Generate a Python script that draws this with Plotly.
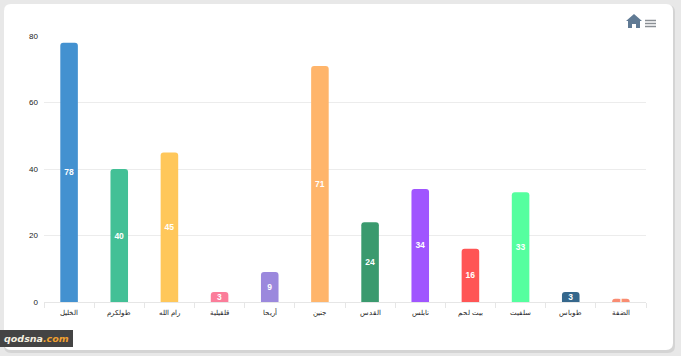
import plotly.graph_objects as go

categories = ["الخليل", "طولكرم", "رام الله", "قلقيلية", "أريحا", "جنين",
              "القدس", "نابلس", "بيت لحم", "سلفيت", "طوباس", "الضفة"]
values = [78, 40, 45, 3, 9, 71, 24, 34, 16, 33, 3, 1]
colors = ["#4391d0", "#43c096", "#ffc75a", "#fb7d9a", "#9b88dd", "#ffb56b",
          "#3a9a6e", "#a055ff", "#ff5555", "#55ff9f", "#35678c", "#f98c72"]
y_ticks = [0, 20, 40, 60, 80]
W, H = 681, 356
L, R, T, B = 44, 646, 36, 302

def px(x): return (x - L) / (R - L)
def py(y): return (B - y) / (B - T)

fig = go.Figure(go.Bar(
    x=categories, y=values, marker=dict(color=colors, cornerradius=3, line=dict(width=0)),
    width=0.35, text=values, textposition="inside", insidetextanchor="middle",
    textangle=0, constraintext="none", cliponaxis=False,
    textfont=dict(family="Liberation Sans, Arial", size=8.5, color="white", weight="bold"),
    hoverinfo="x+y",
))

def rect_path(x0, y0, x1, y1, r):
    X0, X1, Y0, Y1 = px(x0), px(x1), py(y0), py(y1)
    rx, ry = r / (R - L), r / (B - T)
    return (f"M {X0+rx} {Y0} L {X1-rx} {Y0} Q {X1} {Y0} {X1} {Y0-ry} L {X1} {Y1+ry} "
            f"Q {X1} {Y1} {X1-rx} {Y1} L {X0+rx} {Y1} Q {X0} {Y1} {X0} {Y1+ry} "
            f"L {X0} {Y0-ry} Q {X0} {Y0} {X0+rx} {Y0} Z")

shapes = [
    dict(type="path", xref="paper", yref="paper", layer="below", path=rect_path(4, 5, 675, 353, 7),
         fillcolor="#d4d4d4", line=dict(width=0)),
    dict(type="path", xref="paper", yref="paper", layer="below", path=rect_path(4, 4, 673, 350, 7),
         fillcolor="#ffffff", line=dict(width=0)),
]
hp = [(626, 21), (634, 14), (642, 21), (640, 21), (640, 28), (636, 28), (636, 24), (632, 24), (632, 28), (628, 28), (628, 21)]
shapes.append(dict(type="path", xref="paper", yref="paper",
                   path="M " + " L ".join(f"{px(a)} {py(b)}" for a, b in hp) + " Z",
                   fillcolor="#607a94", line=dict(width=0)))
for y in (20.5, 23.5, 26.5):
    shapes.append(dict(type="line", xref="paper", yref="paper", x0=px(645), x1=px(656), y0=py(y), y1=py(y),
                       line=dict(color="#8a8f94", width=1.5)))
shapes.append(dict(type="rect", xref="paper", yref="paper", x0=px(0), x1=px(73), y0=py(330), y1=py(347),
                   fillcolor="#444444", line=dict(width=0)))

fig.update_layout(
    width=W, height=H, autosize=False,
    margin=dict(l=L, r=W - R, t=T, b=H - B, pad=0),
    paper_bgcolor="#e8e8e8", plot_bgcolor="rgba(0,0,0,0)",
    font=dict(family="Liberation Sans, Arial", color="#333333"),
    showlegend=False, shapes=shapes,
    xaxis=dict(type="category", tickson="boundaries", ticks="outside", ticklen=5, tickcolor="#e6e6e6",
               showgrid=False, showline=True, linecolor="#e6e6e6", linewidth=1, tickangle=0,
               tickfont=dict(size=7, color="#222222"), ticklabelstandoff=4, fixedrange=True),
    yaxis=dict(range=[0, 80], tickvals=y_ticks, showgrid=True, gridcolor="#ececec", gridwidth=1,
               zeroline=False, showline=False, ticks="", tickfont=dict(size=8, color="#222222"),
               ticklabelstandoff=5, fixedrange=True),
    annotations=[dict(
        text="<b><i><span style='color:#f5f0e0'>qodsna</span><span style='color:#f0a030'>.com</span></i></b>",
        xref="paper", yref="paper", x=px(36.5), y=py(338.5), xanchor="center", yanchor="middle",
        showarrow=False, font=dict(family="DejaVu Sans", size=9.5))],
)
fig.write_html("out.html", config=dict(displayModeBar=False),
               post_script="document.body.style.margin='0';document.documentElement.style.overflow='hidden';")
